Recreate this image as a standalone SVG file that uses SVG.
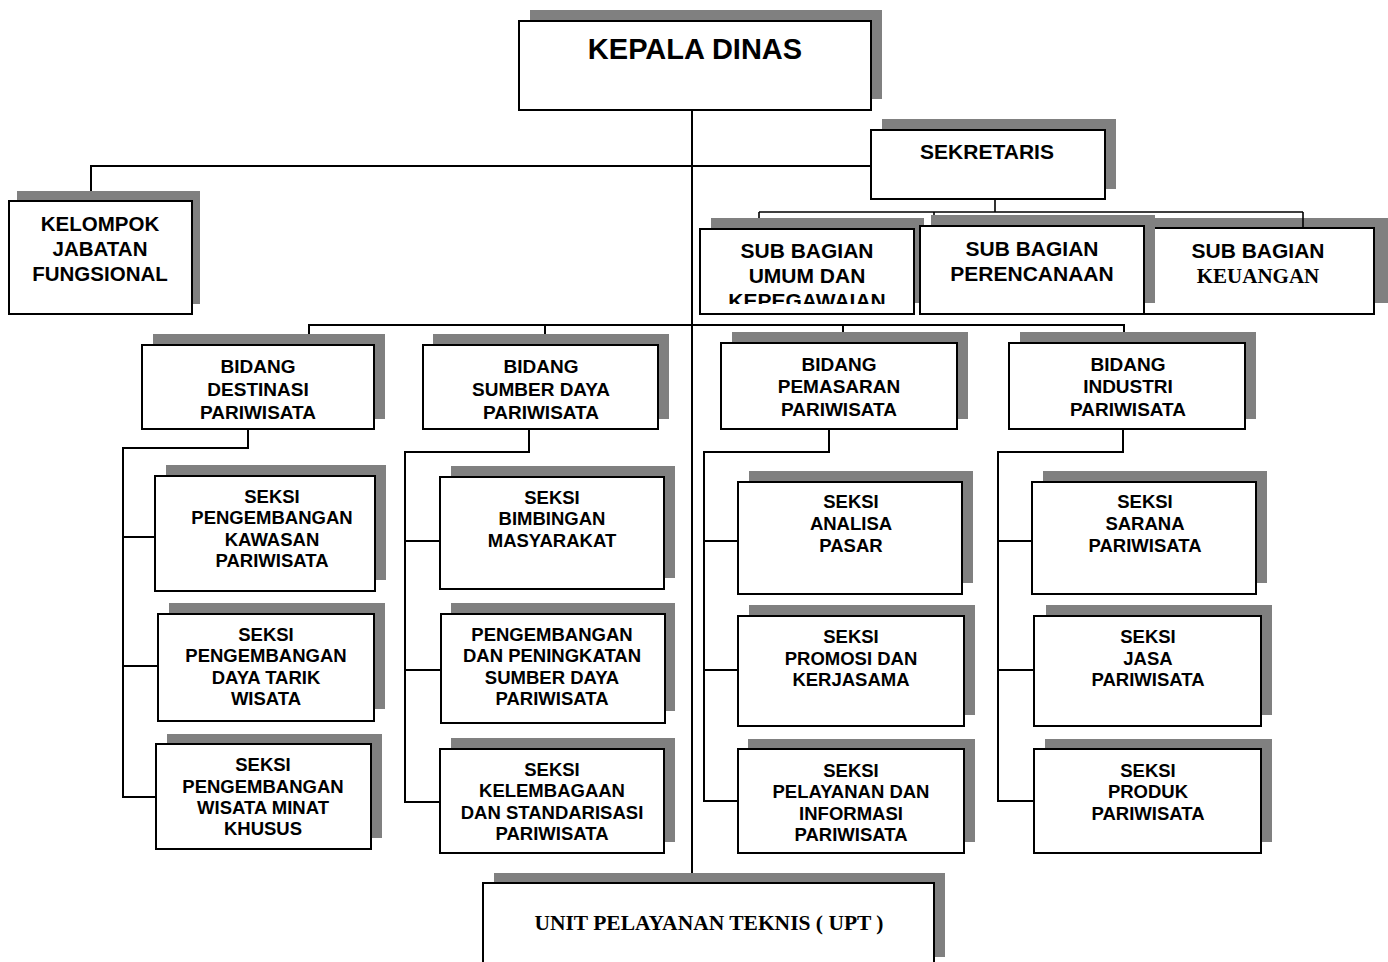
<svg xmlns="http://www.w3.org/2000/svg" width="1388" height="962" viewBox="0 0 1388 962">
<style>
.bg{fill:#fff}
.sh{fill:#808080}
.box{fill:#fff;stroke:#000;stroke-width:2}
.t{font-family:"Liberation Sans",Arial,sans-serif;font-weight:bold;text-anchor:middle;fill:#000}
.ts{font-family:"Liberation Serif","Times New Roman",serif;font-weight:bold;text-anchor:middle;fill:#000}
.f19{font-size:19px}
.f18{font-size:18.5px}
.f20{font-size:20.5px}
.f21{font-size:21px}
.conn{fill:none;stroke:#000;stroke-width:2}
</style>
<defs>
<clipPath id="clipUmum"><rect x="700" y="229" width="214" height="75"/></clipPath>
</defs>
<rect class="bg" x="0" y="0" width="1388" height="962"/>

<g id="kepala-dinas">
<rect class="sh" x="530" y="10" width="352" height="89"/>
<rect class="box" x="519" y="21" width="352" height="89"/>
<text class="t" x="695" y="59" style="font-size:29px">KEPALA DINAS</text>
</g>

<g id="sekretaris">
<rect class="sh" x="882" y="119" width="234" height="70"/>
<rect class="box" x="871" y="130" width="234" height="69"/>
<text class="t f21" x="987" y="159">SEKRETARIS</text>
</g>

<g id="kelompok-jabatan-fungsional">
<rect class="sh" x="17" y="191" width="183" height="113"/>
<rect class="box" x="9" y="201" width="183" height="113"/>
<text class="t f20" x="100" y="231">KELOMPOK</text>
<text class="t f20" x="100" y="256">JABATAN</text>
<text class="t f20" x="100" y="281">FUNGSIONAL</text>
</g>

<g id="sub-bagian-umum">
<rect class="sh" x="711" y="218" width="213" height="85"/>
<rect class="box" x="700" y="229" width="214" height="85"/>
<g clip-path="url(#clipUmum)">
<text class="t f21" x="807" y="258">SUB BAGIAN</text>
<text class="t f21" x="807" y="283">UMUM DAN</text>
<text class="t f21" x="807" y="308">KEPEGAWAIAN</text>
</g>
</g>

<g id="sub-bagian-keuangan">
<rect class="sh" x="1155" y="218" width="233" height="85"/>
<rect class="box" x="1144" y="228" width="230" height="86"/>
<text class="t f21" x="1258" y="258">SUB BAGIAN</text>
<text class="ts f21" x="1258" y="283">KEUANGAN</text>
</g>

<g id="sub-bagian-perencanaan">
<rect class="sh" x="931" y="215" width="224" height="88"/>
<rect class="box" x="920" y="226" width="224" height="88"/>
<text class="t f21" x="1032" y="256">SUB BAGIAN</text>
<text class="t f21" x="1032" y="281">PERENCANAAN</text>
</g>

<g id="bidang-destinasi">
<rect class="sh" x="153" y="334" width="232" height="85"/>
<rect class="box" x="142" y="345" width="232" height="84"/>
<text class="t f19" x="258" y="373">BIDANG</text>
<text class="t f19" x="258" y="396">DESTINASI</text>
<text class="t f19" x="258" y="419">PARIWISATA</text>
</g>

<g id="bidang-sumber-daya">
<rect class="sh" x="433" y="334" width="236" height="85"/>
<rect class="box" x="423" y="345" width="235" height="84"/>
<text class="t f19" x="541" y="373">BIDANG</text>
<text class="t f19" x="541" y="396">SUMBER DAYA</text>
<text class="t f19" x="541" y="419">PARIWISATA</text>
</g>

<g id="bidang-pemasaran">
<rect class="sh" x="732" y="332" width="236" height="87"/>
<rect class="box" x="721" y="343" width="236" height="86"/>
<text class="t f19" x="839" y="371">BIDANG</text>
<text class="t f19" x="839" y="393">PEMASARAN</text>
<text class="t f19" x="839" y="416">PARIWISATA</text>
</g>

<g id="bidang-industri">
<rect class="sh" x="1020" y="332" width="236" height="87"/>
<rect class="box" x="1009" y="343" width="236" height="86"/>
<text class="t f19" x="1128" y="371">BIDANG</text>
<text class="t f19" x="1128" y="393">INDUSTRI</text>
<text class="t f19" x="1128" y="416">PARIWISATA</text>
</g>

<g id="seksi-kawasan">
<rect class="sh" x="166" y="465" width="220" height="115"/>
<rect class="box" x="155" y="476" width="220" height="115"/>
<text class="t f18" x="272" y="503">SEKSI</text>
<text class="t f18" x="272" y="524">PENGEMBANGAN</text>
<text class="t f18" x="272" y="546">KAWASAN</text>
<text class="t f18" x="272" y="567">PARIWISATA</text>
</g>

<g id="seksi-daya-tarik">
<rect class="sh" x="169" y="603" width="216" height="106"/>
<rect class="box" x="158" y="614" width="216" height="107"/>
<text class="t f18" x="266" y="641">SEKSI</text>
<text class="t f18" x="266" y="662">PENGEMBANGAN</text>
<text class="t f18" x="266" y="684">DAYA TARIK</text>
<text class="t f18" x="266" y="705">WISATA</text>
</g>

<g id="seksi-minat-khusus">
<rect class="sh" x="167" y="734" width="215" height="104"/>
<rect class="box" x="156" y="744" width="215" height="105"/>
<text class="t f18" x="263" y="771">SEKSI</text>
<text class="t f18" x="263" y="793">PENGEMBANGAN</text>
<text class="t f18" x="263" y="814">WISATA MINAT</text>
<text class="t f18" x="263" y="835">KHUSUS</text>
</g>

<g id="seksi-bimbingan">
<rect class="sh" x="451" y="466" width="224" height="112"/>
<rect class="box" x="440" y="477" width="224" height="112"/>
<text class="t f18" x="552" y="504">SEKSI</text>
<text class="t f18" x="552" y="525">BIMBINGAN</text>
<text class="t f18" x="552" y="547">MASYARAKAT</text>
</g>

<g id="pengembangan-sdm">
<rect class="sh" x="451" y="603" width="224" height="108"/>
<rect class="box" x="441" y="614" width="224" height="109"/>
<text class="t f18" x="552" y="641">PENGEMBANGAN</text>
<text class="t f18" x="552" y="662">DAN PENINGKATAN</text>
<text class="t f18" x="552" y="684">SUMBER DAYA</text>
<text class="t f18" x="552" y="705">PARIWISATA</text>
</g>

<g id="seksi-kelembagaan">
<rect class="sh" x="451" y="738" width="224" height="104"/>
<rect class="box" x="440" y="749" width="224" height="104"/>
<text class="t f18" x="552" y="776">SEKSI</text>
<text class="t f18" x="552" y="797">KELEMBAGAAN</text>
<text class="t f18" x="552" y="819">DAN STANDARISASI</text>
<text class="t f18" x="552" y="840">PARIWISATA</text>
</g>

<g id="seksi-analisa-pasar">
<rect class="sh" x="749" y="471" width="224" height="112"/>
<rect class="box" x="738" y="482" width="224" height="112"/>
<text class="t f18" x="851" y="508">SEKSI</text>
<text class="t f18" x="851" y="530">ANALISA</text>
<text class="t f18" x="851" y="552">PASAR</text>
</g>

<g id="seksi-promosi">
<rect class="sh" x="749" y="605" width="226" height="110"/>
<rect class="box" x="738" y="616" width="226" height="110"/>
<text class="t f18" x="851" y="643">SEKSI</text>
<text class="t f18" x="851" y="665">PROMOSI DAN</text>
<text class="t f18" x="851" y="686">KERJASAMA</text>
</g>

<g id="seksi-pelayanan">
<rect class="sh" x="748" y="739" width="227" height="103"/>
<rect class="box" x="738" y="749" width="226" height="104"/>
<text class="t f18" x="851" y="777">SEKSI</text>
<text class="t f18" x="851" y="798">PELAYANAN DAN</text>
<text class="t f18" x="851" y="820">INFORMASI</text>
<text class="t f18" x="851" y="841">PARIWISATA</text>
</g>

<g id="seksi-sarana">
<rect class="sh" x="1043" y="471" width="224" height="112"/>
<rect class="box" x="1032" y="482" width="224" height="112"/>
<text class="t f18" x="1145" y="508">SEKSI</text>
<text class="t f18" x="1145" y="530">SARANA</text>
<text class="t f18" x="1145" y="552">PARIWISATA</text>
</g>

<g id="seksi-jasa">
<rect class="sh" x="1046" y="605" width="226" height="110"/>
<rect class="box" x="1034" y="616" width="227" height="110"/>
<text class="t f18" x="1148" y="643">SEKSI</text>
<text class="t f18" x="1148" y="665">JASA</text>
<text class="t f18" x="1148" y="686">PARIWISATA</text>
</g>

<g id="seksi-produk">
<rect class="sh" x="1045" y="739" width="227" height="103"/>
<rect class="box" x="1034" y="749" width="227" height="104"/>
<text class="t f18" x="1148" y="777">SEKSI</text>
<text class="t f18" x="1148" y="798">PRODUK</text>
<text class="t f18" x="1148" y="820">PARIWISATA</text>
</g>

<g id="upt">
<rect class="sh" x="494" y="873" width="451" height="84"/>
<rect class="box" x="483" y="883" width="451" height="90"/>
<text class="ts" x="709" y="930" style="font-size:21.5px">UNIT PELAYANAN TEKNIS ( UPT )</text>
</g>

<g id="connectors">
<path class="conn" d="M692 110 V873"/>
<path class="conn" d="M871 166 H91 V191"/>
<path class="conn" d="M995 199 V212 M759 212 H1303 M759 212 V218 M934 212 V215 M1303 212 V228" style="stroke-width:1.6"/>
<path class="conn" d="M309 334 V325 H1124 V332 M545 325 V334 M843 325 V332"/>
<path class="conn" d="M248 429 V448 H123 V797 H156 M123 537 H155 M123 666 H158"/>
<path class="conn" d="M529 429 V452 H405 V802 H440 M405 541 H440 M405 670 H441"/>
<path class="conn" d="M829 429 V452 H704 V801 H738 M704 541 H738 M704 670 H738"/>
<path class="conn" d="M1123 429 V452 H998 V801 H1034 M998 541 H1032 M998 670 H1034"/>
</g>
</svg>
